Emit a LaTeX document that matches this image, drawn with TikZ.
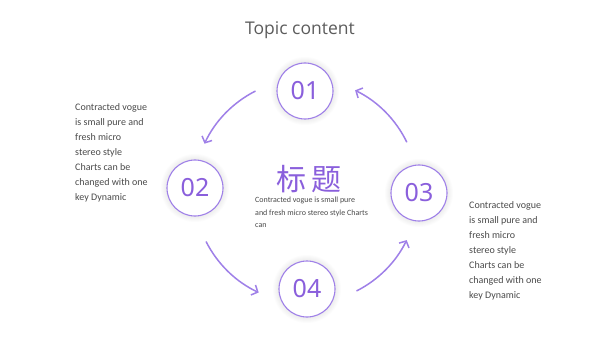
\documentclass[tikz,border=0pt]{standalone}
\usepackage{fontspec}
\setmainfont{Carlito}
\newfontfamily\titlefont{Open Sans}
\newfontfamily\numfont{Noto Sans}
\newfontfamily\cjkfont{Noto Sans CJK SC}
\usetikzlibrary{arrows.meta}
\definecolor{purp}{HTML}{8A5FDC}
\definecolor{purpl}{HTML}{9F80E8}
\definecolor{txt}{HTML}{4A4A4A}
\begin{document}
\begin{tikzpicture}[x=1pt,y=1pt,
  numc/.style={circle,draw=purpl,line width=1.1pt,fill=white,minimum size=56pt,inner sep=0pt,
    text=purp,font=\numfont\fontsize{25}{25}\selectfont},
  flow/.style={draw=purpl,line width=1.5pt,line cap=round,-{Straight Barb[length=5pt,width=11pt,line width=1.5pt]}},
  body/.style={text=txt,font=\fontsize{10}{15}\selectfont,align=left,anchor=north west,inner sep=0pt}]
\useasboundingbox (0,0) rectangle (600,338);
\fill[white] (0,0) rectangle (600,338);
\node[text=txt!90,font=\titlefont\fontsize{17.5}{17.5}\selectfont] (title) at (300,308) {Topic content};
% glow
\foreach \p in {(305,247),(195,150),(419,145),(307,49)}{
  \foreach \k in {1,...,6}{
    \fill[black,opacity=0.012] \p circle[radius=28+\k];
  }
}
\node[numc] (n1) at (305,247) {01};
\node[numc] (n2) at (195,150) {02};
\node[numc] (n3) at (419,145) {03};
\node[numc] (n4) at (307,49) {04};
\coordinate (ctr) at (306,147);
\coordinate (a1s) at ([shift={(117:112)}]ctr);
\coordinate (a2s) at ([shift={(207:112)}]ctr);
\coordinate (a3s) at ([shift={(297:112)}]ctr);
\coordinate (a4s) at ([shift={(26:112)}]ctr);
\draw[flow] (a1s) arc[start angle=117,end angle=155,radius=112];
\draw[flow] (a2s) arc[start angle=207,end angle=245,radius=112];
\draw[flow] (a3s) arc[start angle=297,end angle=334,radius=112];
\draw[flow] (a4s) arc[start angle=26,end angle=64,radius=112];
\node[text=purp,font=\cjkfont\fontsize{30}{30}\selectfont,anchor=base,inner sep=0pt] (head) at (309,148) {标\hspace{5pt}题};
\node[body,font=\fontsize{8}{12.5}\selectfont] (ctext) at (255,141) {Contracted vogue is small pure\\and fresh micro stereo style Charts\\can};
\node[body] (ltext) at (75,235) {Contracted vogue\\is small pure and\\fresh micro\\stereo style\\Charts can be\\changed with one\\key Dynamic};
\node[body] (rtext) at (469,137) {Contracted vogue\\is small pure and\\fresh micro\\stereo style\\Charts can be\\changed with one\\key Dynamic};
\end{tikzpicture}
\end{document}
